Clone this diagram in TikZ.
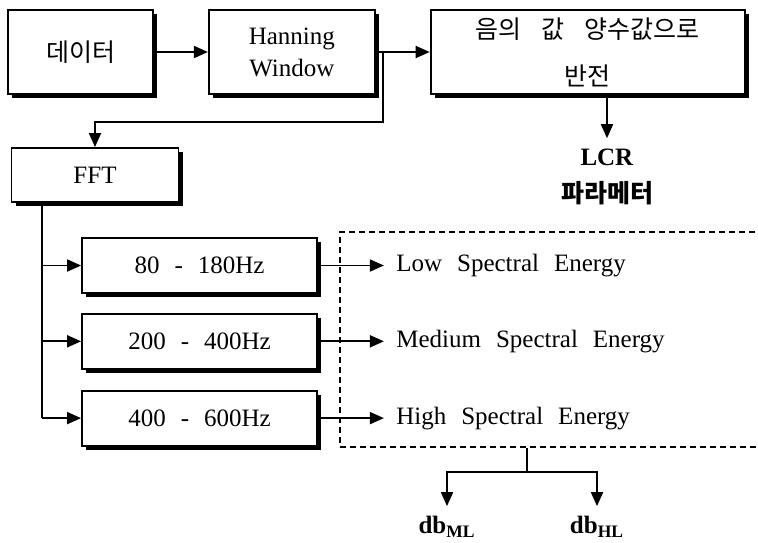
\documentclass[tikz,border=0pt]{standalone}
\usepackage{fontspec}
\setmainfont{Liberation Serif}
\newfontfamily\kr{Noto Sans CJK KR}
\usetikzlibrary{positioning, arrows.meta, shadows}
\newcommand{\wsp}{\hspace{0.6em}}
\newcommand{\ksp}{\hspace{0.8em}}
\tikzset{
  arr/.style={-{Triangle[length=7pt,width=6pt]}, line width=0.9pt},
  ln/.style={line width=0.9pt},
  blk/.style={draw, line width=0.9pt, fill=white, align=center, inner sep=2pt,
    drop shadow={shadow xshift=2.2pt, shadow yshift=-2.2pt, fill=black, opacity=1}},
  lab/.style={align=center, inner sep=1pt}
}

\begin{document}
\begin{tikzpicture}[x=0.5pt, y=-0.5pt, font=\fontsize{12.5}{15}\selectfont,
  toprow/.style={blk, minimum height=42pt},
  band/.style={blk, minimum width=117.5pt, minimum height=27.5pt},
  elab/.style={lab, inner xsep=6pt, right=33pt of #1}]
\useasboundingbox (0,0) rectangle (758,542);
% upper row
\node[toprow, minimum width=72.5pt] (dat) at (80.5,52) {\kr 데이터};
\node[toprow, minimum width=83pt, right=27pt of dat] (han) {Hanning\\[1pt]Window};
\node[toprow, minimum width=157pt, right=27pt of han] (neg) {\kr 음의\ksp 값\ksp 양수값으로\\[8.5pt]\kr 반전};
\draw[arr] (dat) -- (han); \draw[arr] (han) -- (neg);
\node[lab, inner ysep=5pt] (lcr) at (607,157) {\textbf{LCR}};
\node[lab] (prm) at (607,193) {\bfseries\kr 파라메터};
\draw[arr] (neg.south -| lcr) -- (lcr.north);
% fft and bands
\node[blk, minimum width=83.5pt, minimum height=27pt] (fft) at (95,175) {FFT};
\coordinate (sp) at (383,52);
\coordinate (bd) at (383,122);
\draw[arr] (sp) -- (bd) -| (fft.north);
\node[band] (f1) at (199.5,265.5) {80\wsp-\wsp180Hz};
\node[band, below=9.5pt of f1] (f2) {200\wsp-\wsp400Hz};
\node[band, below=10pt of f2] (f3) {400\wsp-\wsp600Hz};
\coordinate (tk) at (42,0);
\draw[ln] (fft.south -| tk) -- (f3.west -| tk);
\foreach \f in {f1,f2,f3} \draw[arr] (\f.west -| tk) -- (\f.west);
% spectral energies
\node[draw, dash pattern=on 3pt off 2pt, line width=0.8pt, minimum width=210pt,
  minimum height=107.5pt] (grp) at (550,339.5) {};
\node[elab=f1] (low) {Low\wsp Spectral\wsp Energy};
\node[elab=f2] (med) {Medium\wsp Spectral\wsp Energy};
\node[elab=f3] (hig) {High\wsp Spectral\wsp Energy};
\draw[arr] (f1) -- (low);
\draw[arr] (f2) -- (med);
\draw[arr] (f3) -- (hig);
% db outputs
\node[lab, inner sep=5pt] (dbm) at (447,527) {\textbf{db\textsubscript{ML}}};
\node[lab, inner sep=5pt] (dbh) at (597,527) {\textbf{db\textsubscript{HL}}};
\coordinate (jn) at (527,472);
\draw[ln] (grp.south -| jn) -- (jn);
\draw[arr] (jn) -| (dbm.north);
\draw[arr] (jn) -| (dbh.north);
\end{tikzpicture}
\end{document}
